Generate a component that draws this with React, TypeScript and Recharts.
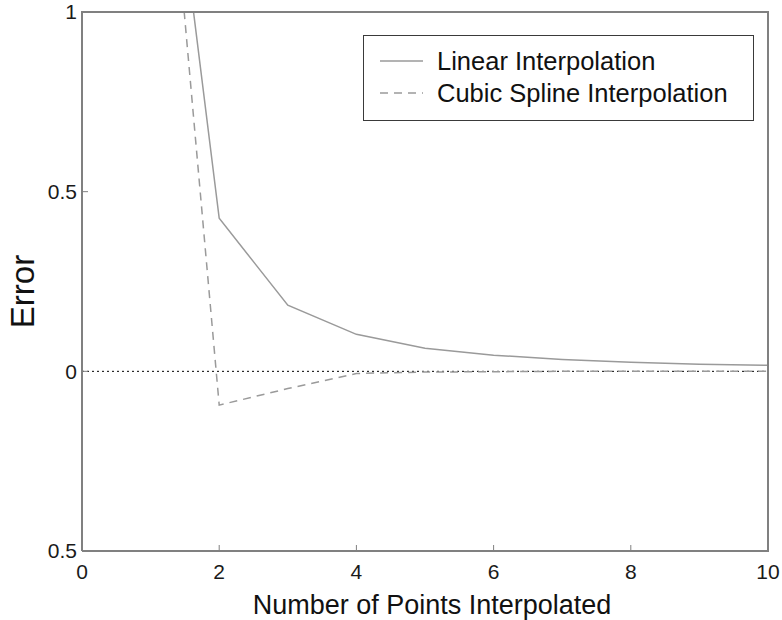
import React from "react";
import { LineChart, Line, XAxis, YAxis, ReferenceLine, Legend, Label } from "recharts";

const xValues = [1, 2, 3, 4, 5, 6, 7, 8, 9, 10];
const linearError = [1.96, 0.426, 0.184, 0.103, 0.064, 0.045, 0.033, 0.025, 0.02, 0.017];
const cubicError = [2.05, -0.094, -0.048, -0.006, -0.002, -0.001, 0, 0, 0, 0];
const xTicks = [0, 2, 4, 6, 8, 10];
const yTicks = [-0.5, 0, 0.5, 1];
const yTickLabels = ["0.5", "0", "0.5", "1"];
const seriesNames = ["Linear Interpolation", "Cubic Spline Interpolation"];
const xTitle = "Number of Points Interpolated";
const yTitle = "Error";

const data = xValues.map((x, i) => ({ x, linear: linearError[i], cubic: cubicError[i] }));

const FONT = "'Liberation Sans', Arial, Helvetica, sans-serif";
const AXIS = "#808080";
const LINE = "#9a9a9a";
const TICK_LEN = 6;
const X_MARGIN = 13;
const Y_MARGIN = 5;

const BottomTick = (props: any) => {
  const { x, y, payload } = props;
  const axisY = y - X_MARGIN;
  return (
    <g>
      <line x1={x} x2={x} y1={axisY} y2={axisY - TICK_LEN} stroke={AXIS} strokeWidth={1} />
      <text x={x} y={y} dy="0.71em" textAnchor="middle" fontSize={21} fontFamily={FONT} fill="#1a1a1a">
        {payload.value}
      </text>
    </g>
  );
};

const LeftTick = (props: any) => {
  const { x, y, payload } = props;
  const axisX = x + Y_MARGIN;
  return (
    <g>
      <line x1={axisX} x2={axisX + TICK_LEN} y1={y} y2={y} stroke={AXIS} strokeWidth={1} />
      <text x={x} y={y} dy="0.355em" textAnchor="end" fontSize={21} fontFamily={FONT} fill="#1a1a1a">
        {yTickLabels[yTicks.indexOf(payload.value)]}
      </text>
    </g>
  );
};

const LegendBox = () => (
  <div
    style={{
      position: "relative",
      width: 391,
      height: 86,
      boxSizing: "border-box",
      border: "1.5px solid #3a3a3a",
      background: "#fff",
      fontFamily: FONT,
      fontSize: 25.5,
      color: "#111",
    }}
  >
    {seriesNames.map((name, i) => (
      <div key={name} style={{ position: "absolute", left: 0, top: 25 + i * 32 - 15, height: 30, width: "100%" }}>
        <svg width={60} height={30} style={{ position: "absolute", left: 0, top: 0 }}>
          <line
            x1={16}
            x2={59}
            y1={15}
            y2={15}
            stroke={LINE}
            strokeWidth={1.5}
            strokeDasharray={i === 1 ? "8 6" : undefined}
          />
        </svg>
        <span style={{ position: "absolute", left: 73, top: 0, lineHeight: "30px", whiteSpace: "nowrap" }}>{name}</span>
      </div>
    ))}
  </div>
);

export default function App() {
  return (
    <div style={{ position: "absolute", left: 0, top: 0, width: 782, height: 620, background: "#fff" }}>
      <LineChart width={782} height={620} data={data} margin={{ top: 12, right: 14, bottom: 0, left: 0 }}>
        <XAxis
          xAxisId="b"
          dataKey="x"
          type="number"
          domain={[0, 10]}
          ticks={xTicks}
          interval={0}
          height={69}
          axisLine={{ stroke: AXIS, strokeWidth: 2 }}
          tickLine={false}
          tickSize={0}
          tickMargin={X_MARGIN}
          tick={<BottomTick />}
        >
          <Label
            content={(props: any) => {
              const vb = props.viewBox || {};
              return (
                <text
                  x={vb.x + vb.width / 2 + 7}
                  y={614}
                  textAnchor="middle"
                  fontSize={27}
                  fontFamily={FONT}
                  fill="#111"
                >
                  {xTitle}
                </text>
              );
            }}
          />
        </XAxis>
        <YAxis
          yAxisId="l"
          type="number"
          domain={[-0.5, 1]}
          ticks={yTicks}
          interval={0}
          allowDataOverflow
          width={82}
          axisLine={{ stroke: AXIS, strokeWidth: 2 }}
          tickLine={false}
          tickSize={0}
          tickMargin={Y_MARGIN}
          tick={<LeftTick />}
        >
          <Label
            content={(props: any) => {
              const vb = props.viewBox || {};
              const cy = vb.y + vb.height / 2 + 10;
              return (
                <text
                  x={34}
                  y={cy}
                  transform={`rotate(-90, 34, ${cy})`}
                  textAnchor="middle"
                  fontSize={33}
                  fontFamily={FONT}
                  fill="#111"
                >
                  {yTitle}
                </text>
              );
            }}
          />
        </YAxis>
        <ReferenceLine xAxisId="b" yAxisId="l" y={0} stroke="#000" strokeWidth={1} strokeDasharray="2 3" />
        <Line
          xAxisId="b"
          yAxisId="l"
          type="linear"
          dataKey="linear"
          name={seriesNames[0]}
          stroke={LINE}
          strokeWidth={1.5}
          dot={false}
          activeDot={false}
          isAnimationActive={false}
        />
        <Line
          xAxisId="b"
          yAxisId="l"
          type="linear"
          dataKey="cubic"
          name={seriesNames[1]}
          stroke={LINE}
          strokeWidth={1.5}
          strokeDasharray="8 6"
          dot={false}
          activeDot={false}
          isAnimationActive={false}
        />
        <Legend
          layout="horizontal"
          verticalAlign="middle"
          align="center"
          wrapperStyle={{ position: "absolute", left: 363, top: 35, width: 391, height: 86, margin: 0, padding: 0 }}
          content={() => <LegendBox />}
        />
      </LineChart>
      {/* top and right edges of the plot frame */}
      <div
        style={{
          position: "absolute",
          left: 81,
          top: 11,
          width: 688,
          height: 541,
          boxSizing: "border-box",
          borderTop: `2px solid ${AXIS}`,
          borderRight: `2px solid ${AXIS}`,
          pointerEvents: "none",
        }}
      />
    </div>
  );
}
